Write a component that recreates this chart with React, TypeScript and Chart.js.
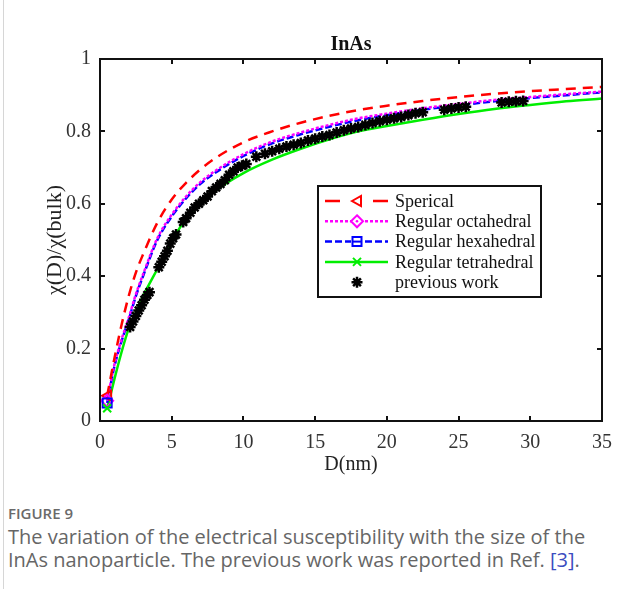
import React, { useEffect, useRef } from "react";
import { Chart, registerables } from "chart.js";

Chart.register(...registerables);

// ---------- data ----------
const D_NM = [0.5, 1, 1.5, 2, 2.5, 3, 4, 5, 6, 7, 8, 10, 12, 14, 16, 18, 20, 22.5, 25, 27.5, 30, 32.5, 35];
const SPHERICAL = [0.07, 0.172, 0.265, 0.345, 0.41, 0.46, 0.548, 0.612, 0.658, 0.695, 0.725, 0.77, 0.8, 0.824, 0.843, 0.859, 0.871, 0.884, 0.895, 0.904, 0.911, 0.917, 0.923];
const OCTAHEDRAL = [0.056, 0.155, 0.225, 0.285, 0.35, 0.405, 0.505, 0.57, 0.62, 0.66, 0.69, 0.737, 0.772, 0.797, 0.818, 0.836, 0.849, 0.864, 0.876, 0.887, 0.895, 0.903, 0.91];
const HEXAHEDRAL = [0.05, 0.15, 0.22, 0.28, 0.345, 0.4, 0.5, 0.565, 0.615, 0.655, 0.685, 0.732, 0.767, 0.792, 0.813, 0.831, 0.845, 0.86, 0.872, 0.883, 0.892, 0.9, 0.908];
const TETRAHEDRAL = [0.035, 0.115, 0.19, 0.255, 0.3, 0.345, 0.42, 0.495, 0.56, 0.6, 0.635, 0.685, 0.722, 0.752, 0.778, 0.8, 0.815, 0.832, 0.848, 0.862, 0.873, 0.883, 0.891];

const PREV_D = [2.1, 2.3, 2.5, 2.7, 2.9, 3.1, 3.3, 3.45, 4.1, 4.3, 4.5, 4.7, 4.9, 5.1, 5.3, 5.8, 6.0, 6.3, 6.6, 6.9, 7.2, 7.5, 7.8, 8.1, 8.4, 8.7, 9.0, 9.3, 9.6, 9.9, 10.2, 10.9, 11.5, 12.0, 12.5, 13.0, 13.5, 14.0, 14.5, 15.0, 15.5, 16.0, 16.5, 17.0, 17.5, 18.0, 18.5, 19.0, 19.5, 20.0, 20.5, 21.0, 21.5, 22.0, 22.5, 24.0, 24.5, 25.0, 25.5, 28.0, 28.5, 29.0, 29.5];
const PREV_VAL = [0.26, 0.275, 0.29, 0.305, 0.32, 0.335, 0.348, 0.356, 0.425, 0.44, 0.455, 0.47, 0.49, 0.505, 0.515, 0.55, 0.56, 0.575, 0.59, 0.6, 0.61, 0.62, 0.635, 0.645, 0.655, 0.665, 0.68, 0.69, 0.7, 0.705, 0.71, 0.73, 0.738, 0.745, 0.752, 0.758, 0.763, 0.768, 0.775, 0.78, 0.786, 0.79, 0.797, 0.803, 0.808, 0.812, 0.818, 0.823, 0.828, 0.832, 0.836, 0.84, 0.845, 0.85, 0.853, 0.86, 0.863, 0.866, 0.868, 0.88, 0.882, 0.883, 0.884];

const SERIES_LABELS = ["Sperical", "Regular octahedral", "Regular hexahedral", "Regular tetrahedral", "previous work"];
const X_TICKS = [0, 5, 10, 15, 20, 25, 30, 35];
const Y_TICKS = [0, 0.2, 0.4, 0.6, 0.8, 1];

const SERIF = "'Liberation Serif', 'Times New Roman', serif";

type Style = { color: string; dash: number[]; marker: string };
const STYLES: Style[] = [
  { color: "#ff0000", dash: [10, 7], marker: "triLeft" },
  { color: "#ff00ff", dash: [3, 2], marker: "diamond" },
  { color: "#0000ff", dash: [7, 3], marker: "square" },
  { color: "#00ee00", dash: [], marker: "x" },
  { color: "#000000", dash: [], marker: "star" },
];

function drawMarker(ctx: CanvasRenderingContext2D, kind: string, x: number, y: number, color: string) {
  ctx.save();
  ctx.setLineDash([]);
  ctx.strokeStyle = color;
  ctx.fillStyle = color;
  ctx.lineWidth = 2;
  ctx.beginPath();
  if (kind === "triLeft") {
    ctx.moveTo(x - 5, y);
    ctx.lineTo(x + 4, y - 5);
    ctx.lineTo(x + 4, y + 5);
    ctx.closePath();
    ctx.stroke();
  } else if (kind === "diamond") {
    ctx.moveTo(x, y - 6);
    ctx.lineTo(x + 6, y);
    ctx.lineTo(x, y + 6);
    ctx.lineTo(x - 6, y);
    ctx.closePath();
    ctx.stroke();
  } else if (kind === "square") {
    ctx.rect(x - 4.5, y - 4.5, 9, 9);
    ctx.stroke();
  } else if (kind === "x") {
    ctx.moveTo(x - 4, y - 4);
    ctx.lineTo(x + 4, y + 4);
    ctx.moveTo(x + 4, y - 4);
    ctx.lineTo(x - 4, y + 4);
    ctx.stroke();
  } else if (kind === "star") {
    ctx.lineWidth = 2.5;
    const r = 5.5;
    for (let i = 0; i < 4; i++) {
      const a = (Math.PI / 4) * i;
      ctx.moveTo(x - r * Math.cos(a), y - r * Math.sin(a));
      ctx.lineTo(x + r * Math.cos(a), y + r * Math.sin(a));
    }
    ctx.stroke();
  }
  ctx.restore();
}

const framePlugin = {
  id: "frameLegend",
  afterDatasetsDraw(chart: any) {
    const ctx: CanvasRenderingContext2D = chart.ctx;
    const { left, right, top, bottom } = chart.chartArea;
    const xs = chart.scales.x;
    const ys = chart.scales.y;
    ctx.save();
    ctx.strokeStyle = "#111";
    ctx.lineWidth = 2;
    ctx.setLineDash([]);
    ctx.strokeRect(left, top, right - left, bottom - top);
    const tl = 5;
    ctx.beginPath();
    X_TICKS.forEach((v) => {
      const px = Math.round(xs.getPixelForValue(v));
      ctx.moveTo(px, bottom);
      ctx.lineTo(px, bottom - tl);
      ctx.moveTo(px, top);
      ctx.lineTo(px, top + tl);
    });
    Y_TICKS.forEach((v) => {
      const py = Math.round(ys.getPixelForValue(v));
      ctx.moveTo(left, py);
      ctx.lineTo(left + tl, py);
      ctx.moveTo(right, py);
      ctx.lineTo(right - tl, py);
    });
    ctx.stroke();

    // legend
    const lx = left + 218;
    const ly = top + 127;
    const lw = 223;
    const lh = 111;
    ctx.fillStyle = "#fff";
    ctx.fillRect(lx, ly, lw, lh);
    ctx.lineWidth = 2;
    ctx.strokeStyle = "#111";
    ctx.strokeRect(lx, ly, lw, lh);
    ctx.font = `18px ${SERIF}`;
    ctx.textBaseline = "middle";
    ctx.textAlign = "left";
    SERIES_LABELS.forEach((label, i) => {
      const st = STYLES[i];
      const cy = ly + 15 + i * 20.3;
      const x0 = lx + 7;
      const x1 = lx + 70;
      const mx = lx + 39;
      ctx.strokeStyle = st.color;
      ctx.lineWidth = 2.5;
      if (i === 0) {
        ctx.setLineDash([]);
        ctx.beginPath();
        ctx.moveTo(x0, cy);
        ctx.lineTo(x0 + 15, cy);
        ctx.moveTo(x1 - 15, cy);
        ctx.lineTo(x1, cy);
        ctx.stroke();
      } else if (i < 4) {
        ctx.setLineDash(st.dash);
        ctx.beginPath();
        ctx.moveTo(x0, cy);
        ctx.lineTo(x1, cy);
        ctx.stroke();
      }
      ctx.setLineDash([]);
      if (i === 1 || i === 2) {
        ctx.fillStyle = "#fff";
        ctx.fillRect(mx - 6, cy - 6, 12, 12);
      }
      drawMarker(ctx, st.marker, mx, cy, st.color);
      if (i === 2) {
        ctx.strokeStyle = st.color;
        ctx.lineWidth = 2;
        ctx.beginPath();
        ctx.moveTo(mx - 4.5, cy);
        ctx.lineTo(mx + 4.5, cy);
        ctx.stroke();
      }
      if (i === 1) {
        ctx.fillStyle = st.color;
        ctx.beginPath();
        ctx.arc(mx, cy, 1.3, 0, Math.PI * 2);
        ctx.fill();
      }
      ctx.fillStyle = "#111";
      ctx.fillText(label, lx + 77, cy + 1);
    });
    ctx.restore();
  },
};

function lineDataset(label: string, values: number[], st: Style, order: number) {
  return {
    label,
    data: D_NM.map((d, i) => ({ x: d, y: values[i] })),
    borderColor: st.color,
    backgroundColor: st.color,
    borderWidth: 2.5,
    borderDash: st.dash,
    cubicInterpolationMode: "monotone" as const,
    pointRadius: 0,
    showLine: true,
    order,
  };
}

export default function App() {
  const ref = useRef<HTMLCanvasElement | null>(null);

  useEffect(() => {
    if (!ref.current) return;
    const markerPlugin = {
      id: "startMarkers",
      afterDatasetsDraw(chart: any) {
        const ctx: CanvasRenderingContext2D = chart.ctx;
        [0, 1, 2, 3].forEach((di) => {
          const meta = chart.getDatasetMeta(di);
          const p = meta.data[0];
          if (p) drawMarker(ctx, STYLES[di].marker, p.x, p.y, STYLES[di].color);
        });
      },
    };
    const chart = new Chart(ref.current, {
      type: "scatter",
      data: {
        datasets: [
          lineDataset(SERIES_LABELS[0], SPHERICAL, STYLES[0], 1),
          lineDataset(SERIES_LABELS[1], OCTAHEDRAL, STYLES[1], 2),
          lineDataset(SERIES_LABELS[2], HEXAHEDRAL, STYLES[2], 3),
          lineDataset(SERIES_LABELS[3], TETRAHEDRAL, STYLES[3], 4),
          {
            label: SERIES_LABELS[4],
            data: PREV_D.map((d, i) => ({ x: d, y: PREV_VAL[i] })),
            showLine: false,
            pointStyle: "star",
            pointRadius: 5.5,
            borderWidth: 2.5,
            borderColor: "#000",
            backgroundColor: "#000",
            order: 0,
          },
        ],
      },
      options: {
        animation: false,
        responsive: false,
        devicePixelRatio: 1,
        layout: { padding: { left: 0, right: 39, top: 0, bottom: 0 } },
        plugins: {
          legend: { display: false },
          tooltip: { enabled: false },
          title: {
            display: true,
            text: "InAs",
            fullSize: false,
            color: "#111",
            font: { family: SERIF, size: 20, weight: "bold" },
            padding: { top: 33, bottom: 2 },
          },
        },
        scales: {
          x: {
            type: "linear",
            min: 0,
            max: 35,
            afterBuildTicks: (s: any) => {
              s.ticks = X_TICKS.map((v) => ({ value: v }));
            },
            afterFit: (s: any) => {
              s.height = 59;
            },
            grid: { display: false, drawTicks: false },
            border: { display: false },
            ticks: { color: "#333", padding: 10, font: { family: SERIF, size: 20 }, maxRotation: 0, callback: (v: any) => String(v) },
            title: {
              display: true,
              text: "D(nm)",
              color: "#222",
              font: { family: SERIF, size: 20 },
              padding: { top: 0, bottom: 3 },
            },
          },
          y: {
            type: "linear",
            min: 0,
            max: 1,
            afterBuildTicks: (s: any) => {
              s.ticks = Y_TICKS.map((v) => ({ value: v }));
            },
            afterFit: (s: any) => {
              s.width = 100;
            },
            grid: { display: false, drawTicks: false },
            border: { display: false },
            ticks: { color: "#333", padding: 9, font: { family: SERIF, size: 20 }, callback: (v: any) => String(v) },
            title: {
              display: true,
              text: "χ(D)/χ(bulk)",
              color: "#222",
              font: { family: SERIF, size: 22 },
              padding: { top: 42, bottom: 0 },
            },
          },
        },
      },
      plugins: [markerPlugin, framePlugin],
    } as any);
    return () => chart.destroy();
  }, []);

  return (
    <div style={{ position: "absolute", left: 0, top: 0, width: 641, height: 589, background: "#fff", overflow: "hidden" }}>
      <div style={{ position: "absolute", left: 3, top: 0, width: 1, height: 589, background: "#d6d6d6" }} />
      <canvas ref={ref} width={641} height={480} style={{ position: "absolute", left: 0, top: 0, width: 641, height: 480 }} />
      <div
        style={{
          position: "absolute",
          left: 8,
          top: 504,
          width: 605,
          fontFamily: "'Open Sans', 'Noto Sans', sans-serif",
          color: "#666",
        }}
      >
        <div style={{ fontSize: 15, lineHeight: "18px", fontWeight: 600, color: "#6a6a6a" }}>FIGURE 9</div>
        <div style={{ fontSize: 20, lineHeight: "23px", marginTop: 2.5 }}>
          The variation of the electrical susceptibility with the size of the InAs nanoparticle. The previous work was
          reported in Ref. <span style={{ color: "#3b4cc0" }}>[3]</span>.
        </div>
      </div>
    </div>
  );
}
